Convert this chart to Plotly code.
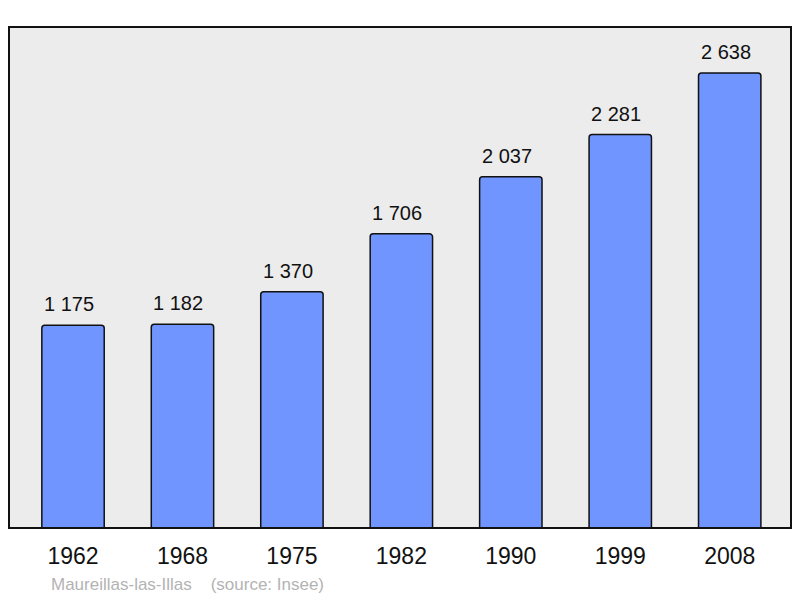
import plotly.graph_objects as go

years = ["1962", "1968", "1975", "1982", "1990", "1999", "2008"]
population = [1175, 1182, 1370, 1706, 2037, 2281, 2638]
labels = ["1 175", "1 182", "1 370", "1 706", "2 037", "2 281", "2 638"]

xs = list(range(len(years)))
FONT = "Liberation Sans, Arial, sans-serif"

fig = go.Figure()
fig.add_trace(go.Bar(
    x=xs, y=population, width=0.57,
    marker=dict(color="#7095ff", line=dict(color="#111111", width=1.5), cornerradius=3),
    hoverinfo="skip",
))

for x, y, t in zip(xs, population, labels):
    fig.add_annotation(x=x, y=y, text=t, showarrow=False, yanchor="bottom", yshift=8, xshift=-4,
                       font=dict(family=FONT, size=20, color="#111111"))

fig.add_annotation(xref="paper", yref="paper", x=(49 - 9) / 782, y=0, xanchor="left", yanchor="top",
                   yshift=-45, showarrow=False, text="Maureillas-las-Illas &nbsp;&nbsp;&nbsp;(source: Insee)",
                   font=dict(family=FONT, size=17, color="#b3b3b3"))

fig.add_shape(type="rect", xref="paper", yref="paper", x0=0, y0=0, x1=1, y1=1,
              line=dict(color="#111111", width=2), layer="above")

fig.update_layout(
    width=792, height=590,
    margin=dict(l=1, r=9, t=19, b=70),
    paper_bgcolor="white", plot_bgcolor="#ececec",
    showlegend=False,
    xaxis=dict(range=[-0.585, 6.56], tickmode="array", tickvals=xs, ticktext=years,
               showgrid=False, zeroline=False, ticks="", ticklabelstandoff=12,
               tickfont=dict(family=FONT, size=23, color="#111111")),
    yaxis=dict(range=[0, 2905], showgrid=False, zeroline=False, showticklabels=False, ticks=""),
)

fig.write_html("out.html")
